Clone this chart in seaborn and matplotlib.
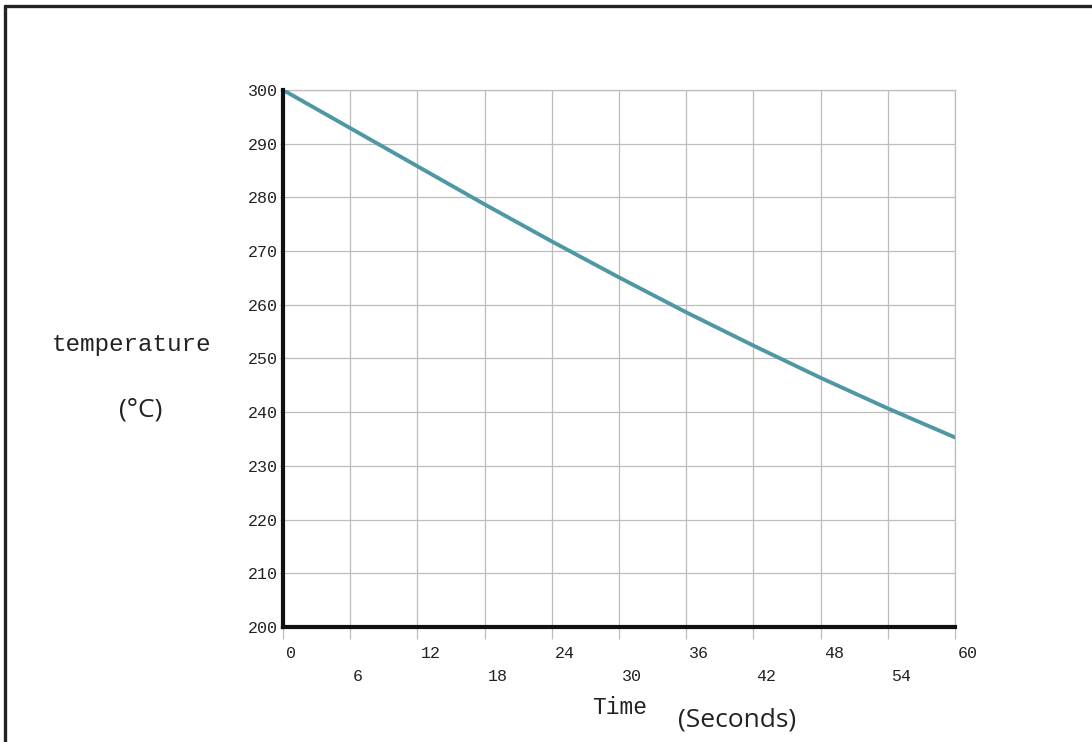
import matplotlib
matplotlib.use("Agg")
import matplotlib.pyplot as plt
from matplotlib.lines import Line2D
from matplotlib.transforms import ScaledTranslation
from matplotlib.ticker import FixedLocator, FixedFormatter
import seaborn as sns
import pandas as pd

# Data
time_s = [0, 6, 12, 18, 24, 30, 36, 42, 48, 54, 60]
temperature_c = [300, 292.9, 285.8, 278.7, 271.8, 265.1, 258.6, 252.4, 246.4, 240.7, 235.3]
y_ticks = [200, 210, 220, 230, 240, 250, 260, 270, 280, 290, 300]
x_ticks_row1 = [0, 12, 24, 36, 48, 60]
x_ticks_row2 = [6, 18, 30, 42, 54]

sns.set_style("white")
plt.rcParams['font.family'] = ['Liberation Mono', 'DejaVu Sans']

df = pd.DataFrame({"Time": time_s, "Temperature": temperature_c})

fig = plt.figure(figsize=(10.92, 7.42), dpi=100)
ax = fig.add_axes([0.2592, 0.155, 0.6154, 0.7237])

sns.lineplot(data=df, x="Time", y="Temperature", ax=ax, color="#4d98a4",
             linewidth=2.8, zorder=3)

ax.set_xlim(0, 60)
ax.set_ylim(200, 300)

grid_col = "#bdbdbd"
ax.xaxis.set_major_locator(FixedLocator(x_ticks_row1))
ax.xaxis.set_minor_locator(FixedLocator(x_ticks_row2))
ax.xaxis.set_major_formatter(FixedFormatter([str(v) for v in x_ticks_row1]))
ax.xaxis.set_minor_formatter(FixedFormatter([str(v) for v in x_ticks_row2]))
ax.set_yticks(y_ticks)
ax.set_yticklabels([str(v) for v in y_ticks])

ax.grid(True, which="both", axis="x", color=grid_col, linewidth=0.9, zorder=0)
ax.grid(True, which="major", axis="y", color=grid_col, linewidth=0.9, zorder=0)

ax.tick_params(axis="x", which="major", length=8.6, width=0.9, color=grid_col,
               pad=5.0, labelsize=12, labelcolor="#222222", bottom=True)
ax.tick_params(axis="x", which="minor", length=8.6, width=0.9, color=grid_col,
               pad=22, labelsize=12, labelcolor="#222222", bottom=True)
ax.tick_params(axis="y", which="major", length=2.5, width=0.9, color=grid_col,
               pad=1.5, labelsize=12, labelcolor="#222222", left=True)

offset = ScaledTranslation(0.03, 0, fig.dpi_scale_trans)
for lab in ax.get_xticklabels(which="both"):
    lab.set_horizontalalignment("left")
    lab.set_transform(lab.get_transform() + offset)

for side in ["left", "bottom"]:
    ax.spines[side].set_color("#111111")
    ax.spines[side].set_linewidth(3.0)
    ax.spines[side].set_zorder(4)
for side in ["top", "right"]:
    ax.spines[side].set_color(grid_col)
    ax.spines[side].set_linewidth(0.9)

ax.set_xlabel("")
ax.set_ylabel("")

# Axis titles
fig.text(131 / 1092, 1 - 345 / 742, "temperature", ha="center", va="center",
         fontsize=17.5, color="#222222", family=["Liberation Mono", "DejaVu Sans"])
fig.text(141 / 1092, 1 - 410 / 742, "(°C)", ha="center", va="center",
         fontsize=19, color="#222222", family=["Open Sans", "DejaVu Sans"])
fig.text(620 / 1092, 1 - 708 / 742, "Time", ha="center", va="center",
         fontsize=16.5, color="#222222", family=["Liberation Mono", "DejaVu Sans"])
fig.text(737 / 1092, 1 - 720 / 742, "(Seconds)", ha="center", va="center",
         fontsize=19, color="#222222", family=["Open Sans", "DejaVu Sans"])

# Outer frame (left and top edges visible in the reference)
fig.add_artist(Line2D([5 / 1092, 5 / 1092], [0, 1 - 6 / 742],
                      transform=fig.transFigure, color="#222222", linewidth=2.4))
fig.add_artist(Line2D([5 / 1092, 1], [1 - 6 / 742, 1 - 6 / 742],
                      transform=fig.transFigure, color="#222222", linewidth=2.4))

fig.savefig("out.png", dpi=100, facecolor="white")
